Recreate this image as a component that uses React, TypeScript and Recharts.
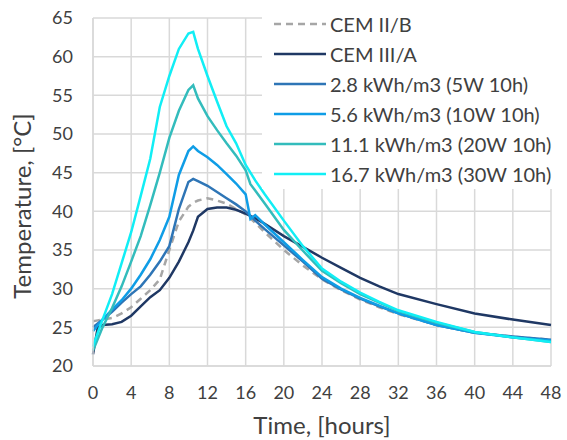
import {
  CartesianGrid,
  Legend,
  Line,
  LineChart,
  XAxis,
  YAxis,
} from "recharts";

const hours = [
  0, 0.5, 1, 2, 3, 4, 5, 6, 7, 8, 9, 10, 10.5, 11, 12, 13, 14, 15, 16, 16.5, 17,
  18, 20, 22, 24, 26, 28, 30, 32, 36, 40, 44, 48,
];

const cemIIB = [
  25.8, 25.9, 26, 26.2, 26.8, 27.6, 28.7, 29.8, 31.2, 35, 38.7, 40.6, 41.1, 41.4,
  41.7, 41.4, 41, 40.3, 39.6, 39.1, 38.5, 37.3, 35, 33, 31.2, 29.8, 28.6, 27.6,
  26.7, 25.3, 24.3, 23.8, 23.4,
];
const cemIIIA = [
  21.5, 25, 25.3, 25.4, 25.7, 26.5, 27.7, 28.9, 29.8, 31.4, 33.5, 36, 37.5, 39.3,
  40.3, 40.5, 40.5, 40.2, 39.7, 39.4, 39.1, 38.4, 36.8, 35.4, 34, 32.7, 31.4,
  30.3, 29.3, 28, 26.8, 26, 25.3,
];
const kwh28 = [
  25, 25.5, 26, 27, 28.2, 29.3, 30.3, 31.8, 33.5, 35.5, 40.3, 43.8, 44.2, 43.9,
  43.3, 42.5, 41.7, 40.9, 40, 39.4, 38.8, 37.7, 35.6, 33.5, 31.3, 29.9, 28.7,
  27.7, 26.8, 25.3, 24.3, 23.8, 23.4,
];
const kwh56 = [
  24.5, 25.3, 26, 27.3, 28.5, 30, 31.8, 33.8, 36.3, 39.3, 44.7, 47.8, 48.4, 47.8,
  47, 46, 44.8, 43.6, 42.2, 39, 39.5, 38.3, 36, 33.7, 31.5, 30, 28.8, 27.8, 26.8,
  25.3, 24.3, 23.7, 23.3,
];
const kwh111 = [
  22, 23.5, 25, 27.5, 30.3, 33.5, 36.8, 40.8, 45, 49.5, 53, 55.7, 56.3, 54.6,
  52.3, 50.5, 48.8, 47.2, 45.3, 43.5, 42.7, 41, 37.6, 34.9, 32.3, 30.7, 29.3,
  28.2, 27.1, 25.6, 24.4, 23.7, 23.1,
];
const kwh167 = [
  22.5, 24.3, 26, 29.3, 33.3, 37.3, 42, 46.8, 53.5, 57.5, 61, 63, 63.2, 61,
  57.5, 54.2, 51, 48.8, 46, 45, 44, 42.2, 38.8, 35.5, 32.6, 30.9, 29.5, 28.3,
  27.2, 25.7, 24.4, 23.7, 23.1,
];

const xTicks = [0, 4, 8, 12, 16, 20, 24, 28, 32, 36, 40, 44, 48];
const yTicks = [20, 25, 30, 35, 40, 45, 50, 55, 60, 65];

const series = [
  { key: "cemIIB", name: "CEM II/B", color: "#a6a6a6", dash: "7 5" },
  { key: "cemIIIA", name: "CEM III/A", color: "#1f3864", dash: undefined },
  { key: "kwh28", name: "2.8 kWh/m3 (5W 10h)", color: "#2e75b6", dash: undefined },
  { key: "kwh56", name: "5.6 kWh/m3 (10W 10h)", color: "#0f9de6", dash: undefined },
  { key: "kwh111", name: "11.1 kWh/m3 (20W 10h)", color: "#33bcbc", dash: undefined },
  { key: "kwh167", name: "16.7 kWh/m3 (30W 10h)", color: "#11eef5", dash: undefined },
];

const data = hours.map((t, i) => ({
  t,
  cemIIB: cemIIB[i],
  cemIIIA: cemIIIA[i],
  kwh28: kwh28[i],
  kwh56: kwh56[i],
  kwh111: kwh111[i],
  kwh167: kwh167[i],
}));

const FONT = "Lato, 'Open Sans', sans-serif";
const TEXT = "#404040";
const GRID = "#d9d9d9";

function LegendBox() {
  return (
    <div style={{ background: "#fff", paddingTop: 9 }}>
      {series.map((s) => (
        <div
          key={s.key}
          style={{ display: "flex", alignItems: "center", height: 30 }}
        >
          <svg width={56} height={10} style={{ marginLeft: 12 }}>
            <line
              x1={0}
              y1={5}
              x2={52}
              y2={5}
              stroke={s.color}
              strokeWidth={2.5}
              strokeDasharray={s.dash}
            />
          </svg>
          <span style={{ fontFamily: FONT, fontSize: 20, color: TEXT }}>
            {s.name}
          </span>
        </div>
      ))}
    </div>
  );
}

export default function App() {
  return (
    <div style={{ position: "absolute", top: 0, left: 0 }}>
      <LineChart
        width={567}
        height={440}
        data={data}
        margin={{ top: 18, right: 16, bottom: 0, left: 0 }}
      >
        <CartesianGrid stroke={GRID} strokeWidth={1.5} />
        <XAxis
          dataKey="t"
          type="number"
          domain={[0, 48]}
          ticks={xTicks}
          height={74}
          tickLine={false}
          tickSize={0}
          tickMargin={20}
          axisLine={{ stroke: GRID, strokeWidth: 1.5 }}
          tick={{ fill: TEXT, fontSize: 18, fontFamily: FONT }}
          label={{
            value: "Time, [hours]",
            position: "center",
            dy: 22,
            style: { fill: TEXT, fontSize: 24, fontFamily: FONT },
          }}
        />
        <YAxis
          type="number"
          domain={[20, 65]}
          ticks={yTicks}
          width={93}
          tickLine={false}
          tickSize={0}
          tickMargin={20}
          axisLine={{ stroke: GRID, strokeWidth: 1.5 }}
          tick={{ fill: TEXT, fontSize: 18, fontFamily: FONT }}
          label={{
            value: "Temperature, [°C]",
            angle: -90,
            position: "center",
            dx: -24,
            dy: 14,
            style: { fill: TEXT, fontSize: 24, fontFamily: FONT, textAnchor: "middle" },
          }}
        />
        <Legend
          layout="vertical"
          align="center"
          verticalAlign="middle"
          wrapperStyle={{ top: 0, left: 262, width: 305 }}
          content={() => <LegendBox />}
        />
        {series.map((s) => (
          <Line
            key={s.key}
            dataKey={s.key}
            name={s.name}
            type="linear"
            stroke={s.color}
            strokeWidth={2.5}
            strokeDasharray={s.dash}
            dot={false}
            isAnimationActive={false}
          />
        ))}
      </LineChart>
    </div>
  );
}
